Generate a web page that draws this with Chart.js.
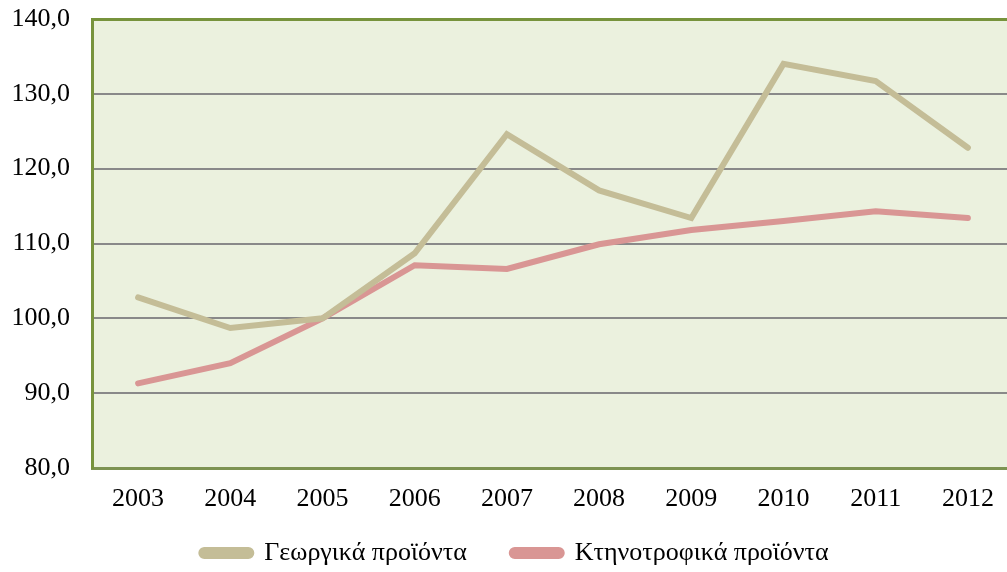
<!DOCTYPE html>
<html>
<head>
<meta charset="utf-8">
<script src="https://cdn.jsdelivr.net/npm/chart.js@4/dist/chart.umd.min.js"></script>
<style>
  html, body { margin: 0; padding: 0; background: #ffffff; overflow: hidden; }
  #wrap { position: absolute; left: 0; top: 0; width: 1015px; height: 572px; }
</style>
</head>
<body>
<div id="wrap"><canvas id="chart"></canvas></div>
<script>
const years = ["2003", "2004", "2005", "2006", "2007", "2008", "2009", "2010", "2011", "2012"];
const cropProducts = [102.8, 98.7, 100.0, 108.7, 124.6, 117.1, 113.4, 134.0, 131.7, 122.8];
const livestockProducts = [91.3, 94.0, 100.0, 107.1, 106.6, 109.9, 111.8, 113.0, 114.3, 113.4];
const seriesNames = ["Γεωργικά προϊόντα", "Κτηνοτροφικά προϊόντα"];

const FONT = "'Liberation Serif', 'Times New Roman', serif";
const OLIVE = "#77933c";
const AXIS = "#7d9352";

// plot background
const plotBackground = {
  id: "plotBackground",
  beforeDraw(chart) {
    const { ctx, chartArea: a } = chart;
    ctx.save();
    ctx.fillStyle = "#ebf1de";
    ctx.fillRect(a.left, a.top, a.right - a.left, a.bottom - a.top);
    ctx.restore();
  }
};

// x labels overlap the legend's top padding, so widen their clip box;
// and nudge the legend so it sits under the plot
const layoutTweaks = {
  id: "layoutTweaks",
  afterLayout(chart) {
    chart.scales.x.bottom = chart.height;
    const lg = chart.legend;
    if (lg) {
      lg.left += 8;
      lg.right += 8;
      lg.top += 4;
      lg.bottom += 4;
    }
  }
};

new Chart(document.getElementById("chart"), {
  type: "line",
  data: {
    labels: years,
    datasets: [
      {
        label: seriesNames[0],
        data: cropProducts,
        borderColor: "#c4bd97",
        backgroundColor: "#c4bd97",
        borderWidth: 6,
        borderCapStyle: "round",
        pointRadius: 0,
        tension: 0
      },
      {
        label: seriesNames[1],
        data: livestockProducts,
        borderColor: "#d99694",
        backgroundColor: "#d99694",
        borderWidth: 6,
        borderCapStyle: "round",
        pointRadius: 0,
        tension: 0
      }
    ]
  },
  options: {
    responsive: true,
    maintainAspectRatio: false,
    animation: false,
    layout: { padding: { top: 19, right: 1, left: 0, bottom: 0 } },
    plugins: {
      tooltip: { enabled: false },
      legend: {
        position: "bottom",
        labels: {
          font: { family: FONT, size: 26 },
          color: "#000000",
          boxWidth: 50,
          boxHeight: 6,
          useBorderRadius: true,
          borderRadius: 3,
          padding: 45
        }
      }
    },
    scales: {
      x: {
        offset: true,
        grid: { display: false },
        border: { display: true, color: AXIS, width: 3 },
        ticks: { font: { family: FONT, size: 26 }, color: "#000000", padding: 8 },
        afterFit(scale) { scale.height = 23; }
      },
      y: {
        min: 80,
        max: 140,
        ticks: {
          stepSize: 10,
          font: { family: FONT, size: 26, lineHeight: 1 },
          color: "#000000",
          padding: 22,
          callback: v => v.toFixed(1).replace(".", ",")
        },
        grid: {
          drawTicks: false,
          color: c => c.tick && c.tick.value === 140 ? OLIVE : (c.tick && c.tick.value === 80 ? AXIS : "#898989"),
          lineWidth: c => c.tick && c.tick.value === 140 ? 3 : 2
        },
        border: { display: true, color: OLIVE, width: 3 },
        afterFit(scale) {
          scale.width = 92;
          scale.paddingTop = 0;
        }
      }
    }
  },
  plugins: [plotBackground, layoutTweaks]
});
</script>
</body>
</html>
